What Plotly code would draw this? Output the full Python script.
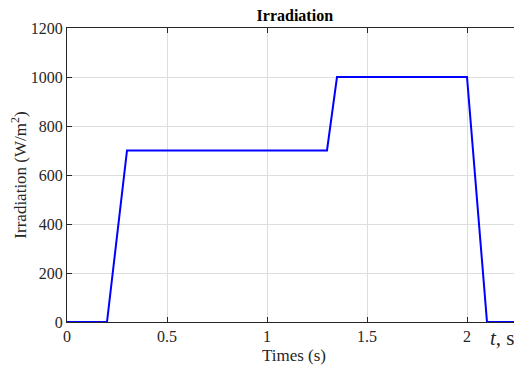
import plotly.graph_objects as go

t = [0, 0.2, 0.3, 1.3, 1.35, 2.0, 2.1, 2.27]
irr = [0, 0, 700, 700, 1000, 1000, 0, 0]
xticks = [0, 0.5, 1, 1.5, 2]
yticks = [0, 200, 400, 600, 800, 1000, 1200]

fig = go.Figure()
fig.add_trace(go.Scatter(x=t, y=irr, mode="lines",
                         line=dict(color="#0000FF", width=2), showlegend=False))

font = "Times New Roman, Liberation Serif, serif"
axcommon = dict(showline=True, linecolor="#262626", linewidth=1, mirror="ticks",
                ticks="inside", ticklen=5, tickcolor="#262626",
                showgrid=True, gridcolor="#DEDEDE", gridwidth=1,
                zeroline=False, tickfont=dict(family=font, size=16, color="#262626"))

fig.update_layout(
    width=514, height=357,
    margin=dict(l=59, r=1, t=20, b=43),
    font=dict(family=font),
    paper_bgcolor="white", plot_bgcolor="white",
    title=dict(text="<b>Irradiation</b>", x=0.558, xanchor="center", y=0.978, yanchor="middle",
               font=dict(family=font, size=16, color="black")),
    xaxis=dict(range=[0, 2.27], tickvals=xticks, ticktext=["0", "0.5", "1", "1.5", "2"],
               title=dict(text="Times (s)", font=dict(family=font, size=17, color="#262626"), standoff=4),
               **axcommon),
    yaxis=dict(range=[0, 1200], tickvals=yticks,
               title=dict(text="Irradiation (W/m<sup>2</sup>)", font=dict(family=font, size=17, color="#262626"), standoff=8),
               **axcommon),
)
fig.add_annotation(x=2.27, y=0, xref="x", yref="y", xanchor="right", yanchor="top",
                   yshift=-2, xshift=-4, showarrow=False,
                   text="<i>t</i>, s", font=dict(family=font, size=21, color="#262626"))

fig.write_html("out.html")
